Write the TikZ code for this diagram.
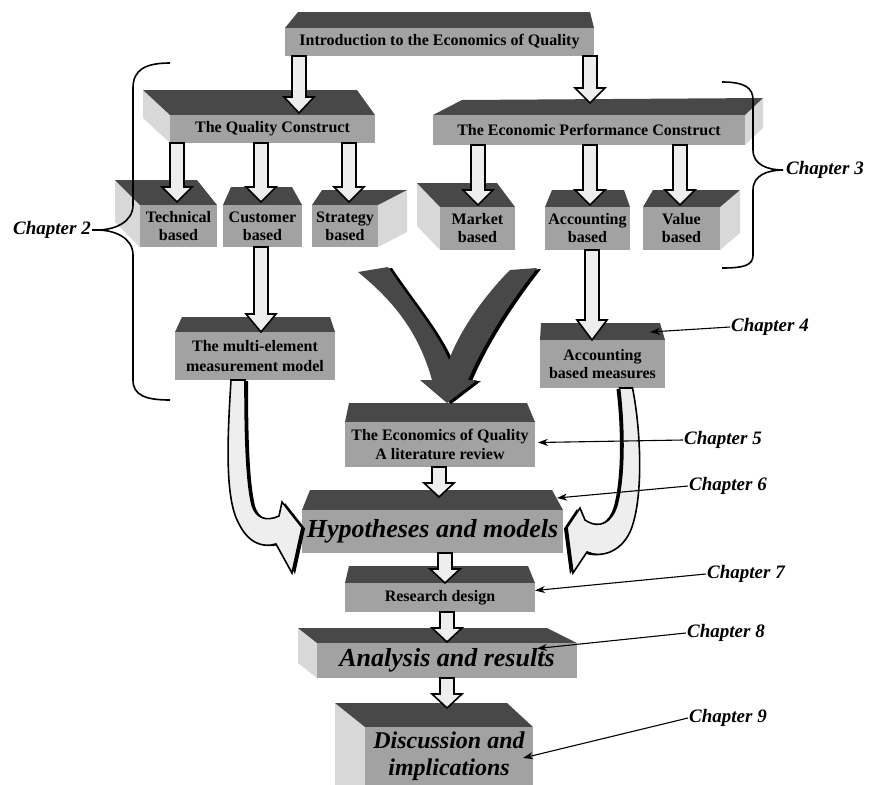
\documentclass[tikz,border=0pt]{standalone}
\usepackage{fontspec}
\setmainfont{Liberation Serif}
\usetikzlibrary{calc,arrows.meta}

\definecolor{roof}{HTML}{484848}
\definecolor{face}{HTML}{A2A2A2}
\definecolor{flank}{HTML}{D8D8D8}
\definecolor{shaft}{HTML}{EEEEEE}

\tikzset{
  front/.style={fill=face, inner sep=0pt, outer sep=0pt, align=center,
                font=\fontsize{16}{19}\selectfont\bfseries},
  roofface/.style={fill=roof},
  flankface/.style={fill=flank},
  blockarr/.style={draw=black, line width=1.6pt, fill=shaft, line join=miter},
  chap/.style={font=\fontsize{19}{22}\selectfont\bfseries\itshape, inner sep=1pt},
  pointer/.style={line width=1.1pt, -{Stealth[length=10pt,width=7pt]}},
  brace/.style={line width=1.6pt},
  bigtext/.style={font=\fontsize{26}{28}\selectfont\bfseries\itshape},
}

% straight block arrow: #1 x, #2 source box, #3 target box,
% #4 lift of the tip above the target's front face, #5 head length
\newcommand\flowarrow[5]{%
  \draw[blockarr] let \p1=(#2.south), \p2=(#3.north) in
    ({#1pt-7pt},\y1) -- ({#1pt-7pt},{\y2+#4pt+#5pt}) -- ({#1pt-15pt},{\y2+#4pt+#5pt})
    -- ({#1pt},{\y2+#4pt}) -- ({#1pt+15pt},{\y2+#4pt+#5pt}) -- ({#1pt+7pt},{\y2+#4pt+#5pt})
    -- ({#1pt+7pt},\y1) -- cycle;}

% the big converging arrow between the two constructs
\newcommand\vshape[1]{%
  \path[#1] (358,272) -- (388,267) .. controls (410,300) and (436,330) .. (449,360)
    .. controls (462,325) and (490,290) .. (510,270) -- (537,268)
    .. controls (512,300) and (485,340) .. (468,380) -- (477,380) -- (447,403)
    -- (420,380) -- (432,380) .. controls (418,330) and (392,300) .. (358,272) -- cycle;}

% curved arrows feeding the hypotheses
\newcommand\leftloop[1]{%
  \path[#1] ($(multi.south)+(-24,0)$) .. controls (228,430) and (224,495) .. (238,522)
    .. controls (248,543) and (262,548) .. (276,544) -- (292,573)
    -- ($(hyp.west)+(0,-4)$) -- (282,502) -- (279,516)
    .. controls (266,522) and (256,518) .. (252,505)
    .. controls (246,480) and (245,430) .. ($(multi.south)+(-10,0)$) -- cycle;}
\newcommand\rightloop[1]{%
  \path[#1] ($(accm.south)+(30,0)$) .. controls (641,430) and (644,500) .. (630,532)
    .. controls (620,553) and (600,558) .. (587,552) -- (573,573)
    -- ($(hyp.east)+(4,-4)$) -- (580,508) -- (585,520)
    .. controls (600,530) and (612,522) .. (617,505)
    .. controls (625,475) and (624,425) .. ($(accm.south)+(17,0)$) -- cycle;}

\begin{document}
\begin{tikzpicture}[x=1pt,y=-1pt]
\useasboundingbox (0,0) rectangle (879,785);

% ---- roofs and side faces ----
\fill[roofface] (285,28) -- (298,12) -- (590,12) -- (594,28) -- cycle;
\fill[flankface] (143,90) -- (170,115) -- (170,143) -- (143,118) -- cycle;
\fill[roofface] (143,90) -- (357,90) -- (375,115) -- (170,115) -- cycle;
\fill[flankface] (745,115) -- (763,98) -- (763,128) -- (745,145) -- cycle;
\fill[roofface] (433,115) -- (462,100) -- (763,98) -- (745,115) -- cycle;
\fill[flankface] (115,180) -- (140,205) -- (140,247) -- (115,222) -- cycle;
\fill[roofface] (115,180) -- (197,180) -- (217,205) -- (140,205) -- cycle;
\fill[roofface] (223,205) -- (231,187) -- (292,187) -- (302,205) -- cycle;
\fill[flankface] (378,205) -- (407,190) -- (407,232) -- (378,247) -- cycle;
\fill[roofface] (312,205) -- (322,190) -- (407,190) -- (378,205) -- cycle;
\fill[flankface] (417,183) -- (440,207) -- (440,250) -- (417,226) -- cycle;
\fill[roofface] (417,183) -- (497,183) -- (515,207) -- (440,207) -- cycle;
\fill[roofface] (545,207) -- (552,190) -- (624,190) -- (630,207) -- cycle;
\fill[flankface] (720,207) -- (740,190) -- (740,233) -- (720,250) -- cycle;
\fill[roofface] (643,207) -- (653,190) -- (740,190) -- (720,207) -- cycle;
\fill[roofface] (175,332) -- (182,317) -- (330,317) -- (335,332) -- cycle;
\fill[roofface] (540,340) -- (541,323) -- (660,323) -- (665,340) -- cycle;
\fill[roofface] (345,422) -- (349,403) -- (527,403) -- (535,422) -- cycle;
\fill[roofface] (302,510) -- (310,490) -- (552,490) -- (563,510) -- cycle;
\fill[roofface] (345,583) -- (349,566) -- (528,566) -- (535,583) -- cycle;
\fill[flankface] (298,628) -- (317,643) -- (317,678) -- (298,663) -- cycle;
\fill[roofface] (298,628) -- (547,628) -- (577,643) -- (317,643) -- cycle;
\fill[flankface] (335,703) -- (365,727) -- (365,785) -- (335,785) -- cycle;
\fill[roofface] (335,703) -- (507,703) -- (533,727) -- (365,727) -- cycle;

% ---- front faces ----
\node[front, minimum width=309pt, minimum height=28pt] (intro) at (439.5,42) {Introduction to the Economics of Quality};
\node[front, minimum width=205pt, minimum height=28pt] (qc) at (272.5,129) {The Quality Construct};
\node[front, minimum width=312pt, minimum height=30pt] (ep) at (589,130) {The Economic Performance Construct};
\node[front, minimum width=77pt, minimum height=42pt, font=\fontsize{16}{18}\selectfont\bfseries] (tech) at (178.5,226) {Technical\\based};
\node[front, minimum width=79pt, minimum height=42pt, font=\fontsize{16}{18}\selectfont\bfseries] (cust) at (262.5,226) {Customer\\based};
\node[front, minimum width=66pt, minimum height=42pt, font=\fontsize{16}{18}\selectfont\bfseries] (strat) at (345,226) {Strategy\\based};
\node[front, minimum width=75pt, minimum height=43pt, font=\fontsize{16}{18}\selectfont\bfseries] (market) at (477.5,228.5) {Market\\based};
\node[front, minimum width=85pt, minimum height=43pt, font=\fontsize{16}{18}\selectfont\bfseries] (acct) at (587.5,228.5) {Accounting\\based};
\node[front, minimum width=77pt, minimum height=43pt, font=\fontsize{16}{18}\selectfont\bfseries] (value) at (681.5,228.5) {Value\\based};
\node[front, minimum width=160pt, minimum height=48pt, font=\fontsize{16}{20}\selectfont\bfseries] (multi) at (255,356) {The multi-element\\measurement model};
\node[front, minimum width=125pt, minimum height=48pt, font=\fontsize{16}{18}\selectfont\bfseries] (accm) at (602.5,364) {Accounting\\based measures};
\node[front, minimum width=190pt, minimum height=45pt] (eoq) at (440,444.5) {The Economics of Quality\\A literature review};
\node[front, bigtext, minimum width=261pt, minimum height=43pt] (hyp) at (432.5,531.5) {Hypotheses and models};
\node[front, minimum width=190pt, minimum height=29pt] (res) at (440,597.5) {Research design};
\node[front, bigtext, minimum width=260pt, minimum height=35pt] (ana) at (447,660.5) {Analysis and results};
\node[front, minimum width=168pt, minimum height=58pt, font=\fontsize{24}{27}\selectfont\bfseries\itshape] (disc) at (449,756) {Discussion and\\implications};

% ---- straight block arrows ----
\flowarrow{299}{intro}{qc}{2}{16}
\flowarrow{590}{intro}{ep}{12}{15}
\flowarrow{177}{qc}{tech}{3}{15}
\flowarrow{261}{qc}{cust}{3}{15}
\flowarrow{349}{qc}{strat}{3}{15}
\flowarrow{478}{ep}{market}{2}{15}
\flowarrow{590}{ep}{acct}{2}{15}
\flowarrow{680}{ep}{value}{2}{15}
\flowarrow{261}{cust}{multi}{0}{18}
\flowarrow{592}{acct}{accm}{0}{20}
\flowarrow{439}{eoq}{hyp}{13}{14}
\flowarrow{445}{hyp}{res}{0}{14}
\flowarrow{447}{res}{ana}{1}{14}
\flowarrow{447}{ana}{disc}{19}{14}

% ---- converging arrow ----
\begin{scope}[transform canvas={shift={(4pt,-1pt)}}]
  \vshape{fill=black}
\end{scope}
\vshape{fill=roof}

% ---- curved arrows ----
\begin{scope}[transform canvas={shift={(3pt,-1pt)}}]
  \leftloop{fill=black}
\end{scope}
\leftloop{blockarr}
\begin{scope}[transform canvas={shift={(-3pt,-1pt)}}]
  \rightloop{fill=black}
\end{scope}
\rightloop{blockarr}

% ---- braces ----
\draw[brace] (170,63) .. controls (145,63) and (133,70) .. (133,88) -- (133,205)
  .. controls (133,222) and (115,230) .. (97,230) coordinate (tipL)
  .. controls (115,230) and (133,238) .. (133,255) -- (133,380)
  .. controls (133,395) and (145,400) .. (170,400);
\draw[brace] (722,82) .. controls (745,82) and (753,88) .. (753,100) -- (753,150)
  .. controls (753,165) and (768,170) .. (783,170) coordinate (tipR)
  .. controls (768,170) and (753,175) .. (753,190) -- (753,255)
  .. controls (753,265) and (745,268) .. (722,268);

% ---- chapter labels ----
\node[chap, anchor=east] (ch2) at (92,230) {Chapter 2};
\draw[brace] (ch2.east) -- (tipL);
\node[chap, anchor=west] (ch3) at (785,170) {Chapter 3};
\node[chap, anchor=west] (ch4) at (730,327) {Chapter 4};
\draw[pointer] (ch4.west) -- ($(accm.north east)+(-15,-8)$);
\node[chap, anchor=west] (ch5) at (683,440) {Chapter 5};
\draw[pointer] (ch5.west) -- ($(eoq.east)+(3,-2)$);
\node[chap, anchor=west] (ch6) at (688,486) {Chapter 6};
\draw[pointer] (ch6.west) -- ($(hyp.north east)+(-6,-12)$);
\node[chap, anchor=west] (ch7) at (706,574) {Chapter 7};
\draw[pointer] (ch7.west) -- ($(res.east)+(0,-7)$);
\node[chap, anchor=west] (ch8) at (686,633) {Chapter 8};
\draw[pointer] (ch8.west) -- ($(ana.east)+(-40,-12)$);
\node[chap, anchor=west] (ch9) at (688,718) {Chapter 9};
\draw[pointer] (ch9.west) -- ($(disc.east)+(-10,2)$);
\end{tikzpicture}
\end{document}
